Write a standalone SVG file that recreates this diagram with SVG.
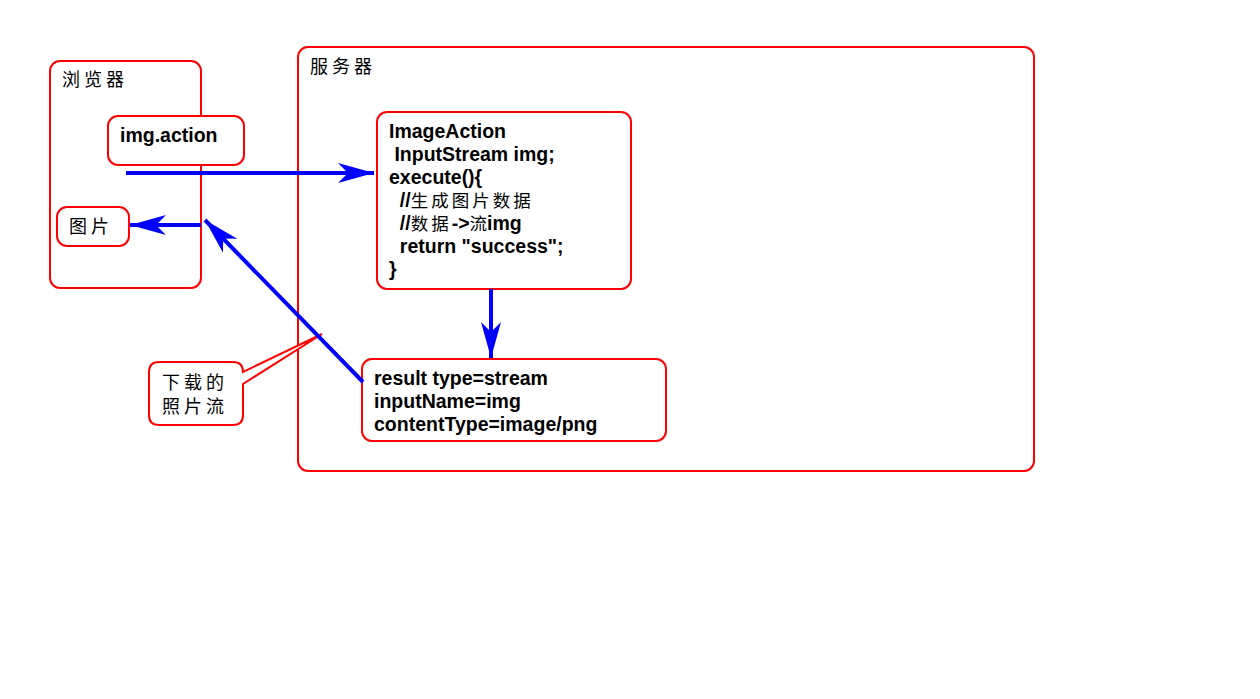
<svg xmlns="http://www.w3.org/2000/svg" width="1260" height="699" viewBox="0 0 1260 699">
<style>
.box{fill:#fff;stroke:#ff0000;stroke-width:2}
.frame{fill:none;stroke:#ff0000;stroke-width:2}
.code{font-family:"Liberation Sans","Noto Sans CJK SC",sans-serif;font-weight:bold;font-size:19.5px;fill:#000}
.cn{font-family:"Noto Sans CJK SC",sans-serif;font-size:18px;letter-spacing:4px;fill:#000}
.cnc{font-family:"Noto Sans CJK SC",sans-serif;font-weight:normal;font-size:17.5px;letter-spacing:3px}
.conn{stroke:#0000ff;stroke-width:4;fill:none;marker-end:url(#ah)}
</style>
<defs>
<marker id="ah" markerUnits="userSpaceOnUse" markerWidth="40" markerHeight="24" viewBox="0 0 40 24" refX="36" refY="12" orient="auto">
<path d="M0,2 L36,12 L0,22 L10,12 Z" fill="#0000ff"/>
</marker>
</defs>
<rect width="1260" height="699" fill="#fff"/>
<g id="browser">
<rect class="frame" x="50" y="61" width="151" height="227" rx="10"/>
<text class="cn" x="62" y="86">浏览器</text>
</g>
<g id="server">
<rect class="frame" x="298" y="47" width="736" height="424" rx="10"/>
<text class="cn" x="310" y="73">服务器</text>
</g>
<g id="img-action">
<rect class="box" x="108" y="116" width="136" height="49" rx="10"/>
<text class="code" x="120" y="142">img.action</text>
</g>
<g id="picture">
<rect class="box" x="57" y="207" width="72" height="39" rx="10"/>
<text class="cn" x="69" y="233">图片</text>
</g>
<g id="image-action">
<rect class="box" x="377" y="112" width="254" height="177" rx="10"/>
<text class="code" x="389" y="138">ImageAction</text>
<text class="code" x="389" y="161" xml:space="preserve"> InputStream img;</text>
<text class="code" x="389" y="184">execute(){</text>
<text class="code" x="389" y="207" xml:space="preserve">  //<tspan class="cnc">生成图片数据</tspan></text>
<text class="code" x="389" y="230" xml:space="preserve">  //<tspan class="cnc">数据</tspan>-&gt;<tspan class="cnc" style="letter-spacing:0">流</tspan>img</text>
<text class="code" x="389" y="253" xml:space="preserve">  return "success";</text>
<text class="code" x="389" y="276">}</text>
</g>
<g id="result">
<rect class="box" x="362" y="359" width="304" height="82" rx="10"/>
<text class="code" x="374" y="385">result type=stream</text>
<text class="code" x="374" y="408">inputName=img</text>
<text class="code" x="374" y="431">contentType=image/png</text>
</g>
<g id="callout">
<path class="box" d="M159,362 H233 Q243,362 243,372 L322,334 L243,384 V415 Q243,425 233,425 H159 Q149,425 149,415 V372 Q149,362 159,362 Z"/>
<text class="cn" x="162" y="389">下载的</text>
<text class="cn" x="162" y="413">照片流</text>
</g>
<g id="connectors">
<line class="conn" x1="126" y1="173" x2="374" y2="173"/>
<line class="conn" x1="201" y1="225" x2="130" y2="225"/>
<line class="conn" x1="363" y1="382" x2="205" y2="220"/>
<line class="conn" x1="491" y1="289" x2="491" y2="358"/>
</g>
</svg>
